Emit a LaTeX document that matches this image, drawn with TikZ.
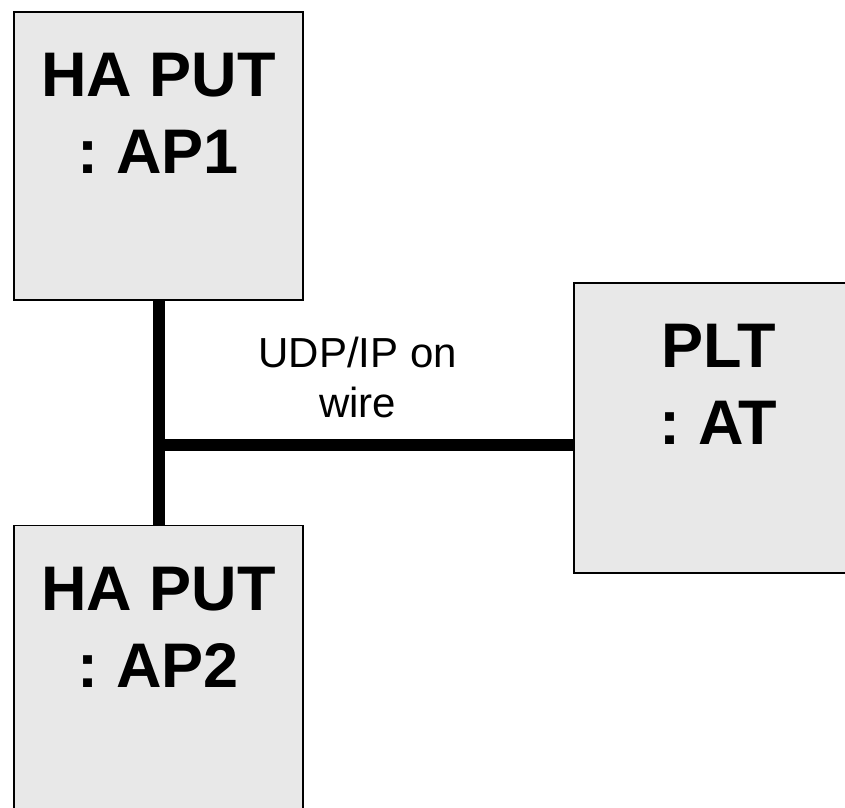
\documentclass[tikz,border=0pt]{standalone}
\usepackage{fontspec}
\setmainfont{Liberation Sans}
\usetikzlibrary{positioning, calc}
\definecolor{boxgray}{HTML}{E8E8E8}
\frenchspacing

\begin{document}
\begin{tikzpicture}[x=1pt, y=1pt]
    \tikzstyle{unit} = [rectangle, draw=black, line width=1.5pt, fill=boxgray, minimum width=289pt, minimum height=288pt]
    \tikzstyle{title} = [font=\fontsize{63}{77}\selectfont\bfseries, align=center, anchor=north, inner sep=0pt, yshift=-42pt]
    \tikzstyle{wire} = [line width=12pt]

    \useasboundingbox (0,0) rectangle (845,807);

    \node (ap1) [unit, label={[title]north:{HA PUT\\: AP1}}] at (158.5,651) {};
    \node (ap2) [unit, below=224pt of ap1, label={[title]north:{HA PUT\\: AP2}}] {};
    \node (plt) [unit, minimum height=290pt, label={[title]north:{PLT\\: AT}}] at (718.5,379) {};
    \coordinate (tap) at ($(ap1.south)!0.643!(ap2.north)$);

    \draw [wire] (ap1.south) -- (ap2.north);
    \draw [wire] (tap) -- node[pos=0.48, above=21pt, inner sep=0pt, align=center, font=\fontsize{42}{50}\selectfont] {UDP/IP on\\wire} (tap -| plt.west);
\end{tikzpicture}
\end{document}
